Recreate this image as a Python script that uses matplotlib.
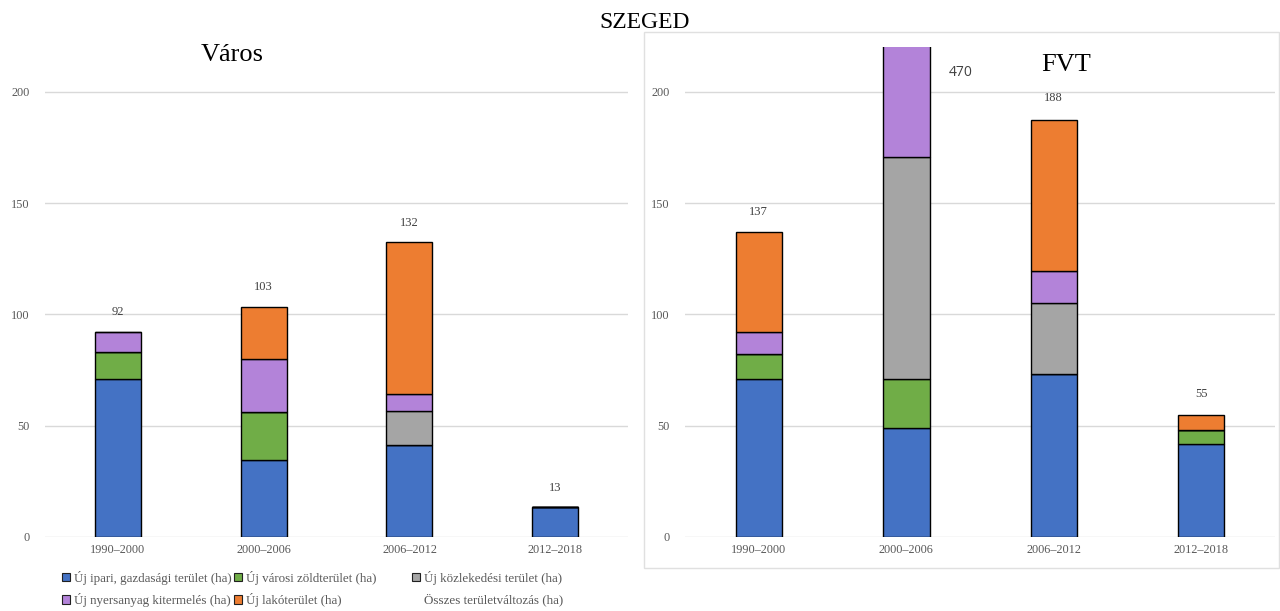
import matplotlib
matplotlib.use("Agg")
import matplotlib.pyplot as plt
from matplotlib.patches import Patch, Rectangle

plt.rcParams['font.family'] = ['Liberation Serif', 'DejaVu Serif']

periods = ["1990–2000", "2000–2006", "2006–2012", "2012–2018"]
series_names = ["Új ipari, gazdasági terület (ha)", "Új városi zöldterület (ha)",
                "Új közlekedési terület (ha)", "Új nyersanyag kitermelés (ha)",
                "Új lakóterület (ha)"]
total_name = "Összes területváltozás (ha)"
colors = ["#4472C4", "#70AD47", "#A5A5A5", "#B383D9", "#ED7D31"]

# Város
varos_ipari = [70.9, 34.4, 41.4, 13.4]
varos_zold = [12.0, 21.8, 0, 0]
varos_kozl = [0, 0, 15.3, 0]
varos_nyers = [9.3, 23.6, 7.3, 0]
varos_lako = [0, 23.3, 68.4, 0]
varos_total = [92, 103, 132, 13]

# FVT
fvt_ipari = [70.9, 48.7, 73.3, 41.7]
fvt_zold = [11.4, 22.2, 0, 6.4]
fvt_kozl = [0, 99.8, 31.6, 0]
fvt_nyers = [9.9, 299.3, 14.6, 0]
fvt_lako = [44.8, 0, 68.0, 6.6]
fvt_total = [137, 470, 188, 55]

tick_color = "#595959"
grid_color = "#D9D9D9"

fig = plt.figure(figsize=(12.8, 6.11), dpi=100)
ax1 = fig.add_axes([0.0352, 0.1216, 0.4555, 0.8008])
ax2 = fig.add_axes([0.5352, 0.1216, 0.4609, 0.8008])

# frame around the right chart
fig.patches.append(Rectangle((0.503, 0.0704), 0.496, 0.877, transform=fig.transFigure,
                             fill=False, edgecolor="#E0E0E0", linewidth=1))


def draw(ax, stacks, totals):
    x = list(range(len(periods)))
    bottom = [0] * len(periods)
    for vals, col in zip(stacks, colors):
        ax.bar(x, vals, width=0.315, bottom=bottom, color=col,
               edgecolor="black", linewidth=1, zorder=3)
        bottom = [b + v for b, v in zip(bottom, vals)]
    for xi, t in zip(x, totals):
        if t <= 220:
            ax.annotate(str(t), (xi, t), xytext=(0, 14.5), textcoords="offset points",
                        ha="center", va="center", fontsize=9, color="#404040")
    ax.set_xlim(-0.5, 3.5)
    ax.set_ylim(0, 220)
    ax.set_yticks([0, 50, 100, 150, 200])
    ax.set_xticks(x)
    ax.set_xticklabels(periods)
    ax.yaxis.grid(True, color=grid_color, linewidth=1, zorder=0)
    ax.set_axisbelow(True)
    for s in ax.spines.values():
        s.set_visible(False)
    ax.tick_params(axis="both", length=0, labelsize=8.8, labelcolor=tick_color)
    ax.tick_params(axis="y", pad=11)
    ax.tick_params(axis="x", pad=5)


draw(ax1, [varos_ipari, varos_zold, varos_kozl, varos_nyers, varos_lako], varos_total)
draw(ax2, [fvt_ipari, fvt_zold, fvt_kozl, fvt_nyers, fvt_lako], fvt_total)

# total for the clipped bar, placed beside it
ax2.text(1.37, 208.5, str(fvt_total[1]), ha="center", va="center", fontsize=10,
         color="#404040", family=["Open Sans", "DejaVu Sans"])

fig.text(645 / 1280, 1 - 22 / 611, "SZEGED", ha="center", va="center", fontsize=17)
fig.text(232 / 1280, 1 - 55 / 611, "Város", ha="center", va="center", fontsize=19)
fig.text(1066 / 1280, 1 - 65 / 611, "FVT", ha="center", va="center", fontsize=19)

handles = [Patch(facecolor=c, edgecolor="#202020", linewidth=0.8) for c in colors]
handles.append(Patch(facecolor="none", edgecolor="none"))
labels = series_names + [total_name]

# legend laid out as three columns, like the Excel grid
columns = [([0, 3], 62), ([1, 4], 234), ([2, 5], 412)]
for idx, xpix in columns:
    leg = fig.legend([handles[i] for i in idx], [labels[i] for i in idx],
                     loc="upper left", bbox_to_anchor=(xpix / 1280, 0.066),
                     frameon=False, fontsize=9.4, handlelength=0.65, handleheight=0.65,
                     handletextpad=0.25, labelspacing=0.65,
                     borderaxespad=0, borderpad=0)
    for t in leg.get_texts():
        t.set_color(tick_color)

fig.savefig("out.png", dpi=100)
